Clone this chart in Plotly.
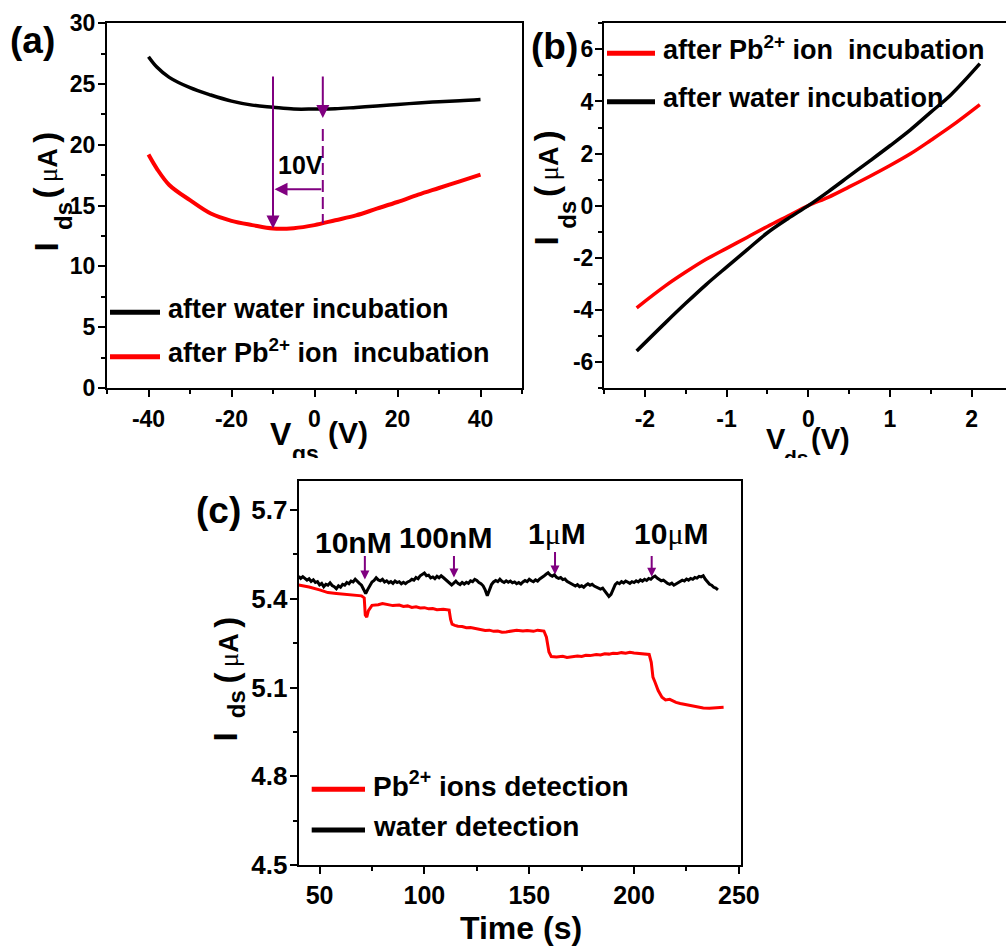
import plotly.graph_objects as go

W, H = 1006, 950
FONT = "Liberation Sans"
SERIF = "Liberation Serif"
PURPLE = "#800080"

# ---------------- (a) transfer curves: Ids vs Vgs ----------------
vgs = [-40, -38, -35, -30, -25, -20, -15, -10, -5, 0, 5, 10, 15, 20, 25, 30, 35, 40]
ids_water_a = [27.25, 26.4, 25.55, 24.7, 24.1, 23.6, 23.27, 23.1, 22.95, 22.95, 22.97,
               23.08, 23.2, 23.33, 23.44, 23.55, 23.63, 23.74]
ids_pb_a = [19.2, 18.05, 16.7, 15.45, 14.35, 13.75, 13.4, 13.12, 13.15, 13.4, 13.8,
            14.2, 14.75, 15.3, 15.9, 16.45, 17.0, 17.55]

# Dirac-point markers (V) and shift annotation
vdirac_pb, vdirac_water = -10, 2
shift_label = "10V"

# ---------------- (b) output curves: Ids vs Vds ----------------
vds = [-2.1, -1.75, -1.5, -1.25, -1.0, -0.75, -0.5, -0.25, 0, 0.25, 0.5, 0.75, 1.0, 1.25, 1.5, 1.75, 2.1]
ids_water_b = [-5.58, -4.5, -3.75, -3.03, -2.36, -1.7, -1.04, -0.5, 0, 0.55, 1.13, 1.71, 2.3,
               2.91, 3.59, 4.27, 5.45]
ids_pb_b = [-3.92, -3.08, -2.55, -2.06, -1.64, -1.22, -0.8, -0.4, 0, 0.33, 0.72, 1.12, 1.54,
            1.99, 2.51, 3.05, 3.88]

# ---------------- (c) real-time detection: Ids vs time ----------------
t_pb = [40, 45, 50, 54, 58, 62, 66, 70, 71.3, 71.8, 72.5, 73.3, 75, 78, 80, 83, 85, 88, 90,
        92, 94, 96, 98, 100, 102, 104, 106, 109, 111.8, 112.5, 113.2, 114.5, 116, 118, 120,
        122, 125, 127, 129, 131, 133, 135, 137, 139, 141, 144, 147, 149, 152, 154, 157,
        158.2, 159.4, 160.5, 163, 166, 168, 170, 173, 175, 177, 179, 182, 184, 186, 188,
        190, 192, 194, 196, 198, 200, 202, 204, 207.2, 208.2, 209, 210, 211.5, 213.3, 215,
        217, 218.5, 220, 222, 224, 226, 228, 230, 233, 236, 239.3, 242.7]
ids_pb_c = [5.447, 5.44, 5.43, 5.421, 5.418, 5.415, 5.412, 5.41, 5.403, 5.345, 5.338, 5.36,
            5.378, 5.38, 5.384, 5.381, 5.377, 5.379, 5.374, 5.376, 5.371, 5.373, 5.369,
            5.37, 5.366, 5.367, 5.363, 5.365, 5.362, 5.33, 5.314, 5.31, 5.307, 5.306, 5.302,
            5.303, 5.298, 5.297, 5.293, 5.294, 5.29, 5.291, 5.287, 5.288, 5.29, 5.294, 5.291,
            5.293, 5.29, 5.294, 5.291, 5.27, 5.22, 5.205, 5.203, 5.206, 5.202, 5.204, 5.207,
            5.205, 5.209, 5.208, 5.212, 5.21, 5.214, 5.213, 5.216, 5.215, 5.218, 5.216, 5.219,
            5.217, 5.215, 5.214, 5.212, 5.185, 5.135, 5.118, 5.09, 5.067, 5.058, 5.06, 5.054,
            5.05, 5.046, 5.043, 5.04, 5.036, 5.033, 5.031, 5.03, 5.031, 5.033]

t_water = [40, 41, 42, 43, 44, 45, 46, 47, 48, 49, 50, 51, 52, 53, 54, 55, 56, 57, 58, 59,
           60, 61, 62, 63, 64, 65, 66, 67, 68, 69, 70, 71, 72, 73, 74, 75, 76, 77, 78, 79,
           80, 81, 82, 83, 84, 85, 86, 87, 88, 89, 90, 91, 92, 93, 94, 95, 96, 97, 98, 99,
           100, 101, 102, 103, 104, 105, 106, 107, 108, 109, 110, 111, 112, 113, 114, 115,
           116, 117, 118, 119, 120, 121, 122, 123, 124, 125, 126, 127, 128, 129, 130, 131,
           132, 133, 134, 135, 136, 137, 138, 139, 140, 141, 142, 143, 144, 145, 146, 147,
           148, 149, 150, 151, 152, 153, 154, 155, 156, 157, 158, 159, 160, 161, 162, 163,
           164, 165, 166, 167, 168, 169, 170, 171, 172, 173, 174, 175, 176, 177, 178, 179,
           180, 181, 182, 183, 184, 185, 186, 187, 188, 189, 190, 191, 192, 193, 194, 195,
           196, 197, 198, 199, 200, 201, 202, 203, 204, 205, 206, 207, 208, 209, 210, 211,
           212, 213, 214, 215, 216, 217, 218, 219, 220, 221, 222, 223, 224, 225, 226, 227,
           228, 229, 230, 231, 232, 233, 234, 235, 236, 237, 238, 239, 240]
ids_water_c = [5.476, 5.469, 5.475, 5.470, 5.463, 5.468, 5.459, 5.464, 5.455, 5.458, 5.447,
               5.452, 5.441, 5.449, 5.446, 5.454, 5.445, 5.441, 5.434, 5.444, 5.439, 5.449,
               5.446, 5.455, 5.451, 5.460, 5.457, 5.466, 5.458, 5.452, 5.446, 5.433, 5.418,
               5.432, 5.446, 5.457, 5.462, 5.471, 5.464, 5.461, 5.466, 5.457, 5.461, 5.454,
               5.458, 5.452, 5.460, 5.455, 5.458, 5.451, 5.456, 5.451, 5.457, 5.460, 5.466,
               5.463, 5.472, 5.468, 5.478, 5.483, 5.487, 5.478, 5.480, 5.471, 5.474, 5.468,
               5.476, 5.471, 5.478, 5.472, 5.466, 5.458, 5.452, 5.447, 5.453, 5.460, 5.452,
               5.448, 5.455, 5.450, 5.456, 5.452, 5.461, 5.458, 5.466, 5.462, 5.455, 5.451,
               5.444, 5.430, 5.410, 5.428, 5.448, 5.457, 5.462, 5.458, 5.466, 5.459, 5.455,
               5.461, 5.456, 5.460, 5.454, 5.457, 5.451, 5.455, 5.450, 5.457, 5.462, 5.458,
               5.466, 5.461, 5.458, 5.464, 5.460, 5.467, 5.471, 5.477, 5.483, 5.488, 5.480,
               5.476, 5.481, 5.473, 5.469, 5.472, 5.465, 5.467, 5.459, 5.455, 5.450, 5.446,
               5.443, 5.448, 5.441, 5.444, 5.439, 5.446, 5.451, 5.446, 5.449, 5.443, 5.440,
               5.437, 5.433, 5.436, 5.426, 5.418, 5.408, 5.415, 5.433, 5.448, 5.455, 5.451,
               5.458, 5.454, 5.460, 5.456, 5.452, 5.458, 5.455, 5.461, 5.457, 5.464, 5.460,
               5.466, 5.462, 5.469, 5.466, 5.473, 5.477, 5.470, 5.466, 5.461, 5.463, 5.457,
               5.452, 5.449, 5.453, 5.446, 5.450, 5.455, 5.459, 5.463, 5.460, 5.467, 5.463,
               5.469, 5.466, 5.472, 5.470, 5.476, 5.474, 5.478, 5.466, 5.457, 5.449, 5.446,
               5.439, 5.436, 5.430]

# additions of Pb2+ (time of injection, label)
add_times = [71.6, 114.1, 162.3, 208.4]
add_labels = ["10nM", "100nM", "1μM", "10μM"]

# ---------------- tick labels ----------------
a_xticks = [-40, -20, 0, 20, 40]
a_xtext = ["-40", "-20", "0", "20", "40"]
a_yticks = [0, 5, 10, 15, 20, 25, 30]
a_ytext = ["0", "5", "10", "15", "20", "25", "30"]
b_xticks = [-2, -1, 0, 1, 2]
b_xtext = ["-2", "-1", "0", "1", "2"]
b_yticks = [-6, -4, -2, 0, 2, 4, 6]
b_ytext = ["-6", "-4", "-2", "0", "2", "4", "6"]
c_xticks = [50, 100, 150, 200, 250]
c_xtext = ["50", "100", "150", "200", "250"]
c_yticks = [4.5, 4.8, 5.1, 5.4, 5.7]
c_ytext = ["4.5", "4.8", "5.1", "5.4", "5.7"]


def px(x):
    return x / W


def py(y):
    return 1 - y / H


fig = go.Figure()

# (a)
fig.add_trace(go.Scatter(x=vgs, y=ids_water_a, mode="lines", xaxis="x", yaxis="y",
                         line=dict(color="black", width=3.5, shape="spline"), showlegend=False))
fig.add_trace(go.Scatter(x=vgs, y=ids_pb_a, mode="lines", xaxis="x", yaxis="y",
                         line=dict(color="#ff0000", width=4, shape="spline"), showlegend=False))
# (b)
fig.add_trace(go.Scatter(x=vds, y=ids_pb_b, mode="lines", xaxis="x2", yaxis="y2",
                         line=dict(color="#ff0000", width=3.5, shape="spline"), showlegend=False))
fig.add_trace(go.Scatter(x=vds, y=ids_water_b, mode="lines", xaxis="x2", yaxis="y2",
                         line=dict(color="black", width=3.5, shape="spline"), showlegend=False))
# (c)
fig.add_trace(go.Scatter(x=t_pb, y=ids_pb_c, mode="lines", xaxis="x3", yaxis="y3",
                         line=dict(color="#ff0000", width=3), showlegend=False))
fig.add_trace(go.Scatter(x=t_water, y=ids_water_c, mode="lines", xaxis="x3", yaxis="y3",
                         line=dict(color="black", width=3), showlegend=False))


def axis(domain, rng, tickvals, ticktext, minor_vals, size, anchor, mirror=True, standoff=2):
    return dict(
        domain=domain, range=rng, anchor=anchor, automargin=False, tickmode="array",
        tickvals=tickvals, ticktext=ticktext, ticks="outside", ticklen=7, tickwidth=2,
        tickcolor="black", showline=True, linecolor="black", linewidth=2, mirror=mirror,
        showgrid=False, zeroline=False, ticklabelstandoff=standoff,
        tickfont=dict(family=FONT, size=size, color="black", weight="bold"),
        minor=dict(tickmode="array", tickvals=minor_vals, ticks="outside", ticklen=4,
                   tickwidth=2, tickcolor="black", showgrid=False),
    )


ya_dom = [py(388), py(23.3)]
fig.update_layout(
    width=W, height=H, margin=dict(l=0, r=0, t=0, b=0, pad=0), autosize=False,
    paper_bgcolor="white", plot_bgcolor="white",
    font=dict(family=FONT, color="black"),
    xaxis=axis([px(107), px(522)], [-50, 50], a_xticks, a_xtext, [-50, -30, -10, 10, 30, 50], 23, "y"),
    yaxis=axis(ya_dom, [0, 30], a_yticks, a_ytext, [2.5, 7.5, 12.5, 17.5, 22.5, 27.5], 23, "x",
               standoff=-2),
    xaxis2=axis([px(604), 1.0], [-2.5, 2.42], b_xticks, b_xtext, [-2.5, -1.5, -0.5, 0.5, 1.5], 23, "y2"),
    yaxis2=axis(ya_dom, [-7, 7], b_yticks, b_ytext, [-7, -5, -3, -1, 1, 3, 5, 7], 23, "x2",
                mirror=False, standoff=-3),
    xaxis3=axis([px(298.6), px(741)], [40, 251], c_xticks, c_xtext, [75, 125, 175, 225], 25, "y3",
                standoff=0),
    yaxis3=axis([py(865), py(480.5)], [4.5, 5.8], c_yticks, c_ytext, [4.65, 4.95, 5.25, 5.55], 26, "x3",
                standoff=-3),
)

ann = []
shapes = []


def text(x, base, s, size, xanchor="center"):
    """Bold horizontal text positioned by its baseline (pixels)."""
    ann.append(dict(x=px(x), y=py(base + 0.212 * size), xref="paper", yref="paper",
                    xanchor=xanchor, yanchor="bottom", showarrow=False, borderpad=0,
                    text=f"<b>{s}</b>", font=dict(family=FONT, size=size, color="black")))


def vtext(base_x, cy, s, size):
    """Bold text reading bottom-to-top; base_x is the baseline position."""
    ann.append(dict(x=px(base_x - 0.3465 * size), y=py(cy), xref="paper", yref="paper",
                    xanchor="center", yanchor="middle", showarrow=False, textangle=-90,
                    borderpad=0, text=f"<b>{s}</b>",
                    font=dict(family=FONT, size=size, color="black")))


mu = f"<span style='font-family:{SERIF};font-weight:normal'>μ</span>"
unit_ua = f"(<span style='font-size:27px'>\u2009{mu}A\u2009</span>)"

# panel letters
text(32.5, 54, "(a)", 37)
text(554, 60.5, "(b)", 37)
text(218, 524, "(c)", 37)

# y-axis titles: I, subscript ds, unit
for (bi, ci, bd, cd, bu, cu) in [(57, 247, 71.7, 215.5, 57, 165),
                                 (558, 241, 575, 215, 558, 163.4),
                                 (236, 737, 244.5, 704, 237, 650)]:
    vtext(bi, ci, "I", 33)
    vtext(bd, cd, "ds", 24)
    vtext(bu, cu, unit_ua, 33)

# x-axis titles
text(280.8, 446, "V", 32)
text(305, 463, "gs", 23)
text(348.3, 444, "(V)", 30)
text(775.8, 450, "V", 29)
text(796.7, 466, "ds", 21)
text(830, 450, "(V)", 29)
text(520.5, 940, "Time (s)", 32)

# the strip between the upper panels and panel (c) is left blank
ann.append(dict(x=0.5, y=py(467.5), xref="paper", yref="paper", xanchor="center",
                yanchor="middle", showarrow=False, text="\u00a0", width=W, height=19,
                bgcolor="white", borderpad=0, borderwidth=0))


# legends
def legend_item(x0, x1, y, color, label, tx, size):
    shapes.append(dict(type="line", xref="paper", yref="paper", x0=px(x0), x1=px(x1),
                       y0=py(y), y1=py(y), line=dict(color=color, width=5)))
    text(tx, y + 0.26 * size, label, size, xanchor="left")


pb_ion = "after Pb<sup>2+</sup> ion\u00a0 incubation"
legend_item(110, 160, 312.3, "black", "after water incubation", 166.7, 27)
legend_item(110, 160, 356.7, "#ff0000", pb_ion, 166.7, 27)
legend_item(607, 655, 53.3, "#ff0000", pb_ion, 661.7, 27)
legend_item(607, 655, 101.7, "black", "after water incubation", 661.7, 27)
legend_item(311.7, 365, 789.3, "#ff0000", "Pb<sup>2+</sup> ions detection", 372, 28)
legend_item(311.7, 365, 830, "black", "water detection", 372, 28)

# (a) Dirac point shift arrows
arrow = dict(showarrow=True, arrowcolor=PURPLE, arrowwidth=2, arrowhead=2, arrowsize=1.3,
             standoff=0, startstandoff=0, text="", axref="x", ayref="y", xref="x", yref="y")
ann.append(dict(arrow, x=vdirac_pb, y=13.13, ax=vdirac_pb, ay=25.75))
ann.append(dict(arrow, x=vdirac_water, y=22.2, ax=vdirac_water, ay=25.75))
ann.append(dict(arrow, x=vdirac_pb + 0.36, y=16.34, ax=vdirac_water, ay=16.34))
shapes.append(dict(type="line", xref="x", yref="y", x0=vdirac_water, x1=vdirac_water,
                   y0=21.3, y1=13.55, line=dict(color=PURPLE, width=2, dash="12px,5px")))
text(300, 175, shift_label, 25)

# (c) injection arrows and labels
head_y = [5.465, 5.472, 5.482, 5.475]
tail_y = [5.55, 5.55, 5.563, 5.55]
lab_x = [353.3, 445.8, 556.7, 670.8]
lab_base = [553.3, 548.3, 545, 545]
for t, lab, hy, ty, lx, lb in zip(add_times, add_labels, head_y, tail_y, lab_x, lab_base):
    ann.append(dict(showarrow=True, arrowcolor=PURPLE, arrowwidth=2, arrowhead=2,
                    arrowsize=0.9, standoff=0, startstandoff=0, text="",
                    xref="x3", yref="y3", axref="x3", ayref="y3", x=t, y=hy, ax=t, ay=ty))
    text(lx, lb, lab.replace("μ", f"</b>{mu}<b>"), 30)

fig.update_layout(annotations=ann, shapes=shapes)
fig.write_html("out.html")
